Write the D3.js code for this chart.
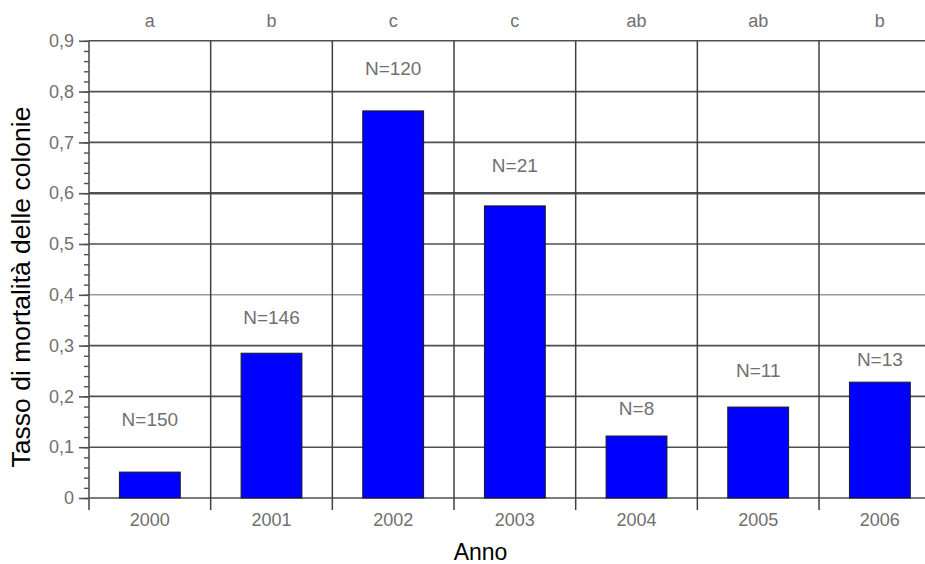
<!DOCTYPE html>
<html>
<head>
<meta charset="utf-8">
<script src="https://cdn.jsdelivr.net/npm/d3@7/dist/d3.min.js"></script>
<style>
  html, body { margin: 0; padding: 0; background: #fff; }
  svg { display: block; font-family: "Liberation Sans", Arial, sans-serif; }
</style>
</head>
<body>
<svg id="chart" width="925" height="564"></svg>
<script>
// ---- data ----
const years = ["2000", "2001", "2002", "2003", "2004", "2005", "2006"];
const mortality = [0.051, 0.285, 0.762, 0.575, 0.122, 0.179, 0.228];
const sampleLabels = ["N=150", "N=146", "N=120", "N=21", "N=8", "N=11", "N=13"];
const sampleLabelHeights = [0.142, 0.343, 0.833, 0.642, 0.163, 0.238, 0.260];
const groupLetters = ["a", "b", "c", "c", "ab", "ab", "b"];
const yTicks = [0, 0.1, 0.2, 0.3, 0.4, 0.5, 0.6, 0.7, 0.8, 0.9];
const yMinorTicks = d3.range(0, 0.9001, 0.02);

// ---- layout ----
const svg = d3.select("#chart");
const plotLeft = 89, plotRight = 940.7, plotTop = 40.8, plotBottom = 498, axisExt = 510;

const x = d3.scaleBand().domain(years).range([plotLeft, plotRight]).paddingInner(0).paddingOuter(0);
const y = d3.scaleLinear().domain([0, 0.9]).range([plotBottom, plotTop]);
const bw = x.bandwidth();
const fmt = d => d === 0 ? "0" : d3.format(".1f")(d).replace(".", ",");

// horizontal gridlines
svg.append("g").selectAll("line").data(yTicks).join("line")
  .attr("x1", plotLeft).attr("x2", 925)
  .attr("y1", d => y(d)).attr("y2", d => y(d))
  .attr("stroke", d => d === 0.4 ? "#9a9a9a" : "#505050")
  .attr("stroke-width", d => d === 0.6 ? 2.6 : 1.6);

// vertical gridlines at category boundaries
svg.append("g").selectAll("line").data(years.slice(1)).join("line")
  .attr("x1", d => x(d)).attr("x2", d => x(d))
  .attr("y1", plotTop).attr("y2", axisExt)
  .attr("stroke", "#404040").attr("stroke-width", 1.5);

// bars
svg.append("g").selectAll("rect").data(years).join("rect")
  .attr("x", d => x(d) + bw * 0.25)
  .attr("width", bw * 0.5)
  .attr("y", (d, i) => y(mortality[i]))
  .attr("height", (d, i) => y(0) - y(mortality[i]))
  .attr("fill", "#0000ff")
  .attr("stroke", "#1a1a1a").attr("stroke-width", 1);

// left axis: major ticks + labels
const yAxis = d3.axisLeft(y).tickValues(yTicks).tickSize(10).tickPadding(5).tickFormat(fmt);
const gy = svg.append("g").attr("transform", `translate(${plotLeft},0)`).call(yAxis);
gy.select(".domain").remove();
gy.selectAll(".tick line").attr("stroke", "#505050").attr("stroke-width", 1.6);
gy.selectAll(".tick text").attr("fill", "#707070").style("font-size", "18px")
  .style("font-family", "'Liberation Sans', Arial, sans-serif");

// left axis: minor ticks
const yMinor = d3.axisLeft(y).tickValues(yMinorTicks).tickSize(5).tickFormat("");
const gm = svg.append("g").attr("transform", `translate(${plotLeft},0)`).call(yMinor);
gm.select(".domain").remove();
gm.selectAll(".tick line").attr("stroke", "#505050").attr("stroke-width", 1.4);

// left axis line
svg.append("line").attr("x1", plotLeft).attr("x2", plotLeft).attr("y1", plotTop).attr("y2", axisExt)
  .attr("stroke", "#505050").attr("stroke-width", 1.6);

// x labels
svg.append("g").selectAll("text").data(years).join("text")
  .attr("x", d => x(d) + bw / 2).attr("y", 526)
  .attr("text-anchor", "middle").attr("fill", "#707070").style("font-size", "18px")
  .text(d => d);

// group letters at top
svg.append("g").selectAll("text").data(years).join("text")
  .attr("x", d => x(d) + bw / 2).attr("y", 26.5)
  .attr("text-anchor", "middle").attr("fill", "#707070").style("font-size", "18px")
  .text((d, i) => groupLetters[i]);

// sample size labels
svg.append("g").selectAll("text").data(years).join("text")
  .attr("x", d => x(d) + bw / 2).attr("y", (d, i) => y(sampleLabelHeights[i]))
  .attr("text-anchor", "middle").attr("fill", "#707070").style("font-size", "19px")
  .text((d, i) => sampleLabels[i]);

// axis titles
svg.append("text").attr("x", 480.5).attr("y", 560)
  .attr("text-anchor", "middle").attr("fill", "#000").style("font-size", "23px")
  .text("Anno");
svg.append("text")
  .attr("transform", "translate(30,287) rotate(-90)")
  .attr("text-anchor", "middle").attr("fill", "#000").style("font-size", "26.5px")
  .text("Tasso di mortalità delle colonie");
</script>
</body>
</html>
